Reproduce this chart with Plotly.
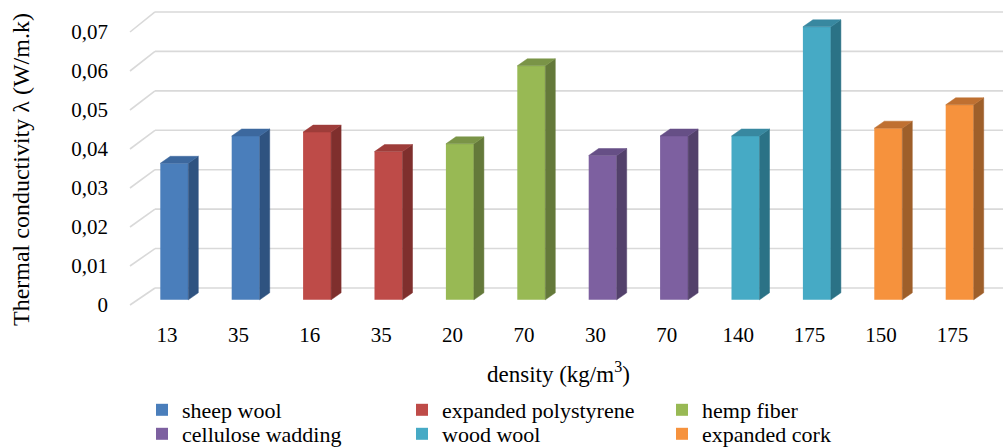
import plotly.graph_objects as go

# ---------------- data ----------------
materials = ["sheep wool", "expanded polystyrene", "hemp fiber",
             "cellulose wadding", "wood wool", "expanded cork"]
densities = ["13", "35", "16", "35", "20", "70", "30", "70", "140", "175", "150", "175"]
material_of_bar = [0, 0, 1, 1, 2, 2, 3, 3, 4, 4, 5, 5]
conductivity = [0.035, 0.042, 0.043, 0.038, 0.040, 0.060,
                0.037, 0.042, 0.042, 0.070, 0.044, 0.050]
y_ticks = [0, 0.01, 0.02, 0.03, 0.04, 0.05, 0.06, 0.07]
y_ticktext = ["0", "0,01", "0,02", "0,03", "0,04", "0,05", "0,06", "0,07"]

front_colors = ["#4A7EBB", "#BE4B48", "#98B954", "#7D60A0", "#46AAC5", "#F6923D"]
side_colors = ["#2F5380", "#7F2F2D", "#64793A", "#53416B", "#2B7286", "#9E5F2A"]
top_colors = ["#3C689E", "#9E3D3A", "#7A9447", "#664F86", "#3888A0", "#BF7031"]

# ---------------- geometry (pixels) ----------------
W, H = 1003, 448
L, R, T, B = 109, 1003, 0, 320          # plot area in page pixels
PX_CAT = 71.4                           # px per category
X0_PX = 167                             # px of category 0 at front edge
PX_VAL = 3900.0                         # px per value unit on front edge
Y0_PX = 305                             # px of value 0 on front edge

def u_of(px):
    return (px - X0_PX) / PX_CAT

def v_of(py):
    return (Y0_PX - py) / PX_VAL

x_range = [u_of(L), u_of(R)]
y_range = [v_of(B), v_of(T)]

def paper_x(px):
    return (px - L) / (R - L)

def paper_y(py):
    return (B - py) / (B - T)

fig = go.Figure()

# walls: grid lines (side wall + back wall), computed from tick values
shapes = []
side_front_u = u_of(130)
side_back_u = u_of(155)
for v in y_ticks:
    back_py = 288 - 3943 * v
    vb = v_of(back_py)
    shapes.append(dict(type="line", xref="x", yref="y", x0=side_front_u, y0=v,
                       x1=side_back_u, y1=vb, layer="below",
                       line=dict(color="#D9D9D9", width=1.6)))
    shapes.append(dict(type="line", xref="x", yref="y", x0=side_back_u, y0=vb,
                       x1=x_range[1], y1=vb, layer="below",
                       line=dict(color="#D9D9D9", width=1.6)))

# bars
front_dx = 7.3 / PX_CAT
front_dy = 5.2 / PX_VAL
bar_w = 28 / PX_CAT
depth_dx = 10 / PX_CAT
depth_dy = 7 / PX_VAL

for m, name in enumerate(materials):
    idx = [i for i, mm in enumerate(material_of_bar) if mm == m]
    xs = [i + front_dx for i in idx]
    hs = [conductivity[i] for i in idx]
    fig.add_trace(go.Bar(
        x=xs, y=hs, base=[front_dy] * len(idx), width=bar_w, name=name,
        marker=dict(color=front_colors[m], line=dict(width=0)),
        legend="legend" if m < 3 else "legend2",
        showlegend=True, hoverinfo="skip"))

for m, name in enumerate(materials):
    idx = [i for i, mm in enumerate(material_of_bar) if mm == m]
    sx, sy, tx, ty = [], [], [], []
    for i in idx:
        xl = i + front_dx - bar_w / 2
        xr = i + front_dx + bar_w / 2
        yb = front_dy
        yt = front_dy + conductivity[i]
        sx += [xr, xr + depth_dx, xr + depth_dx, xr, xr, None]
        sy += [yb, yb + depth_dy, yt + depth_dy, yt, yb, None]
        tx += [xl, xr, xr + depth_dx, xl + depth_dx, xl, None]
        ty += [yt, yt, yt + depth_dy, yt + depth_dy, yt, None]
    fig.add_trace(go.Scatter(x=sx, y=sy, mode="lines", fill="toself",
                             fillcolor=side_colors[m],
                             line=dict(color=side_colors[m], width=0.5),
                             showlegend=False, hoverinfo="skip"))
    fig.add_trace(go.Scatter(x=tx, y=ty, mode="lines", fill="toself",
                             fillcolor=top_colors[m],
                             line=dict(color=top_colors[m], width=0.5),
                             showlegend=False, hoverinfo="skip"))

FONT = "Liberation Serif, Times New Roman, serif"

legend_common = dict(orientation="h", xanchor="left", yanchor="middle",
                     entrywidth=215, entrywidthmode="pixels",
                     font=dict(size=22, family=FONT), bgcolor="rgba(0,0,0,0)",
                     itemclick=False, itemdoubleclick=False, tracegroupgap=0)

fig.update_layout(
    width=W, height=H,
    margin=dict(l=L, r=W - R, t=T, b=H - B, pad=0, autoexpand=False),
    paper_bgcolor="white", plot_bgcolor="white",
    font=dict(family=FONT, size=21, color="#000000"),
    barmode="overlay",
    shapes=shapes,
    xaxis=dict(range=x_range, tickmode="array", tickvals=list(range(len(densities))),
               ticktext=densities, showgrid=False, zeroline=False, showline=False,
               ticks="", tickfont=dict(size=21, family=FONT), fixedrange=True,
               automargin=False),
    yaxis=dict(range=y_range, tickmode="array", tickvals=y_ticks, ticktext=y_ticktext,
               showgrid=False, zeroline=False, showline=False, ticks="",
               tickfont=dict(size=21, family=FONT), fixedrange=True,
               automargin=False),
    legend=dict(x=paper_x(142), y=paper_y(410), **legend_common),
    legend2=dict(x=paper_x(142), y=paper_y(434), **legend_common),
    annotations=[
        dict(text="Thermal conductivity λ (W/m.k)", xref="paper", yref="paper",
             x=paper_x(21), y=paper_y(170), textangle=-90, showarrow=False,
             font=dict(size=24, family=FONT), xanchor="center", yanchor="middle"),
        dict(text="density (kg/m<sup>3</sup>)", xref="paper", yref="paper",
             x=paper_x(558), y=paper_y(372), showarrow=False,
             font=dict(size=23, family=FONT), xanchor="center", yanchor="middle"),
    ],
)

fig.write_html("out.html")
